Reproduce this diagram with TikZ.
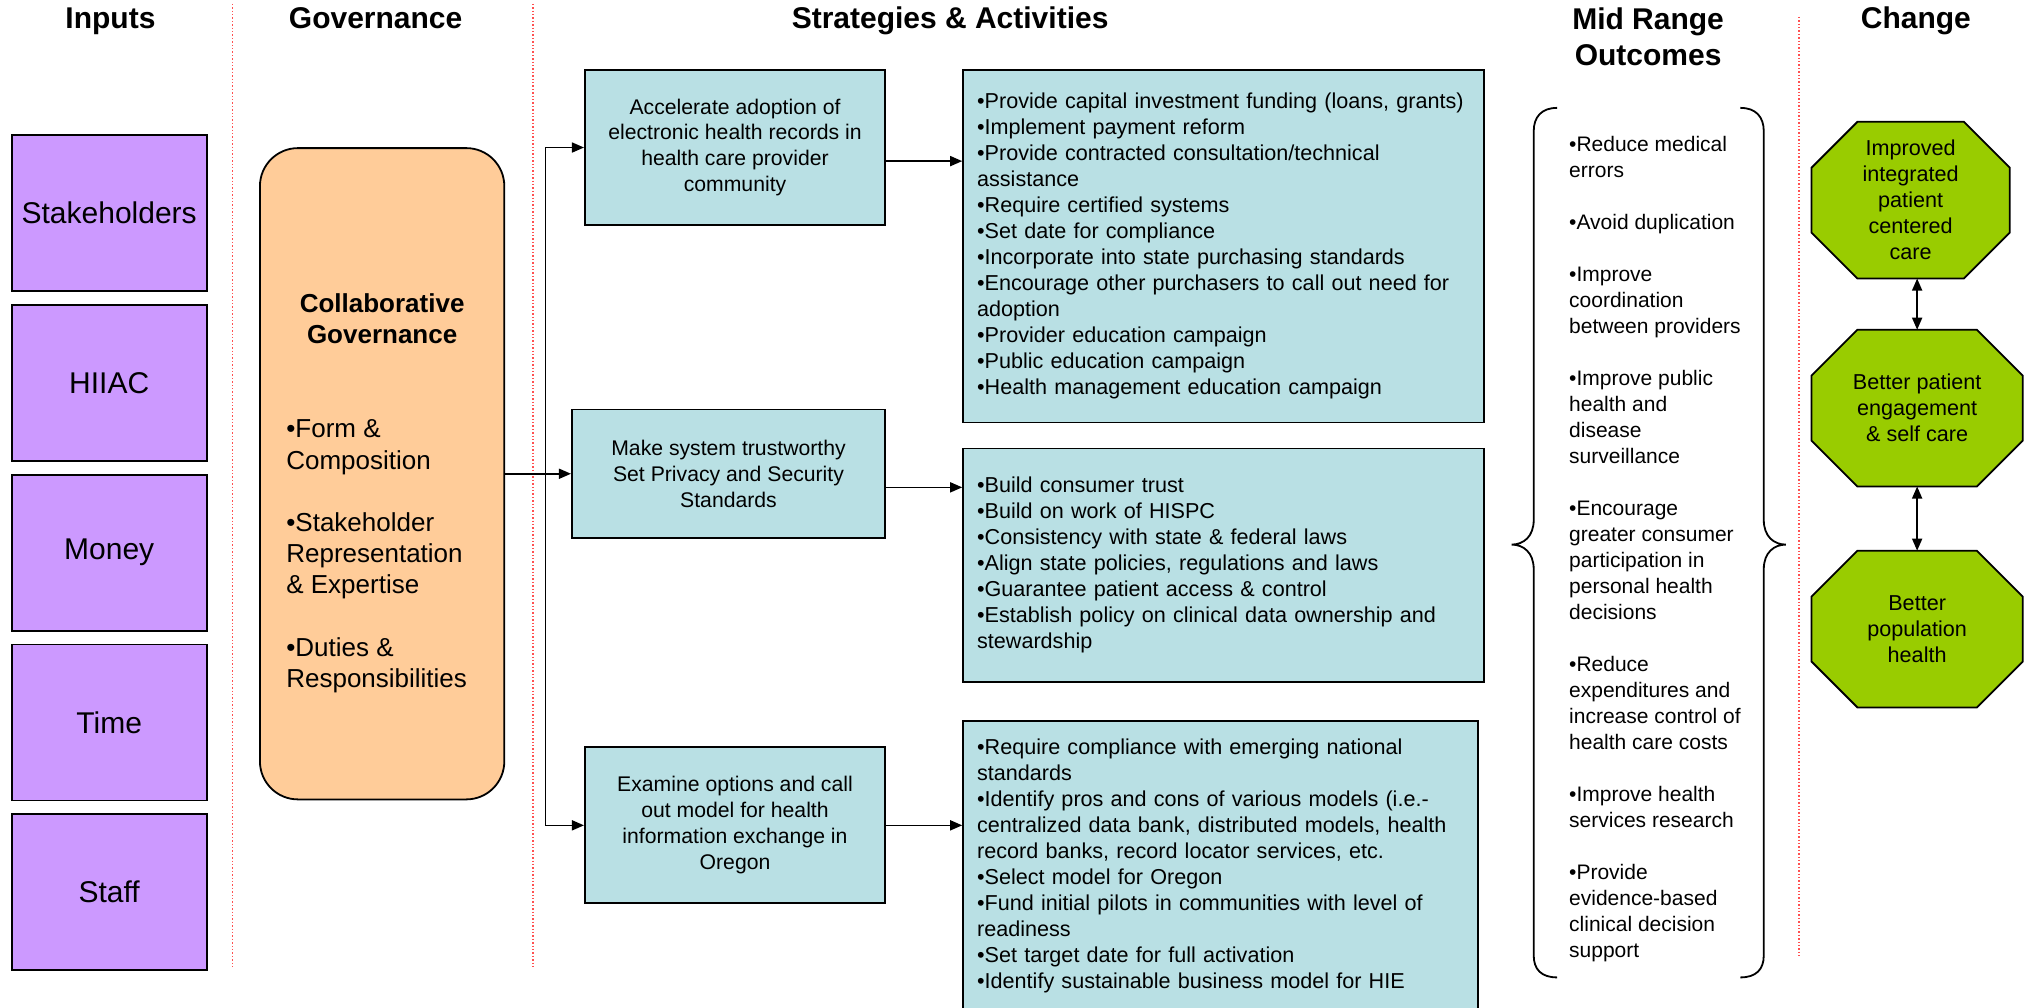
\documentclass[tikz,border=0pt]{standalone}
\usepackage{fontspec}
\setmainfont{Liberation Sans}
\usepackage{tikz}
\usetikzlibrary{arrows.meta, positioning, calc, backgrounds}

\definecolor{inputpurple}{RGB}{204,153,255}
\definecolor{govorange}{RGB}{255,204,153}
\definecolor{actteal}{RGB}{185,224,228}
\definecolor{changegreen}{RGB}{153,204,0}
\definecolor{dividerred}{RGB}{255,80,80}

\tikzset{
    heading/.style={font=\fontsize{15}{18}\selectfont\bfseries, align=center},
    inputbox/.style={
        rectangle, draw, fill=inputpurple, line width=0.9pt,
        minimum width=97.5pt, minimum height=78pt,
        font=\fontsize{15}{18}\selectfont
    },
    govbox/.style={
        rectangle, draw, fill=govorange, line width=0.9pt,
        rounded corners=19pt, minimum width=122.2pt, minimum height=325.7pt
    },
    strategy/.style={rectangle, draw, fill=actteal, line width=0.9pt, align=center, font=\fontsize{10.6}{13}\selectfont},
    activity/.style={rectangle, draw, fill=actteal, line width=0.9pt, align=left, inner xsep=7pt, font=\fontsize{10.8}{13}\selectfont},
    outcome/.style={anchor=west, inner sep=0pt, align=left, font=\fontsize{10.5}{13}\selectfont},
    % Change column
    changenode/.style={minimum height=78pt, align=center, inner sep=0pt, font=\fontsize{10.8}{13}\selectfont},
    octagon/.style={draw, fill=changegreen, line width=0.9pt},
    divider/.style={dividerred, densely dotted, line width=0.7pt},
    brace/.style={line width=0.9pt},
    arrow/.style={line width=0.8pt, ->, >={Triangle[length=6pt, width=5pt]}},
    twoway/.style={line width=0.8pt, <->, >={Triangle[length=6pt, width=5pt]}}
}

\begin{document}
\begin{tikzpicture}[x=0.65pt, y=-0.65pt]
    \useasboundingbox (0,0) rectangle (1568,775);

    % column headings
    \node[heading, anchor=base] (hinputs) at (85,22) {Inputs};
    \node[heading, anchor=base] (hgov) at (289,22) {Governance};
    \node[heading, anchor=base] (hstrat) at (731,22) {Strategies \& Activities};
    \node[heading] (hmid) at (1268,28) {Mid Range\\Outcomes};
    \node[heading, anchor=base] (hchange) at (1474,22) {Change};

    \draw[divider] (179,3) -- (179,745);
    \draw[divider] (410,3) -- (410,745);
    \draw[divider] (1384,13) -- (1384,735);

    % inputs
    \node[inputbox] (stake) at (84,164) {Stakeholders};
    \node[inputbox, below=6pt of stake] (hiiac) {HIIAC};
    \node[inputbox, below=6pt of hiiac] (money) {Money};
    \node[inputbox, below=6pt of money] (time) {Time};
    \node[inputbox, below=6pt of time] (staff) {Staff};

    % governance
    \node[govbox] (gov) at (294,364.5) {};
    \node[font=\fontsize{13}{15.6}\selectfont\bfseries, align=center] (govtitle) at (294,245) {Collaborative\\Governance};
    \node[anchor=west, inner sep=0pt, align=left, font=\fontsize{13}{15.6}\selectfont] (govlist) at (220,428)
        {•Form \&\\Composition\\[15.6pt]•Stakeholder\\Representation\\\& Expertise\\[15.6pt]•Duties \&\\Responsibilities};

    % strategies
    \node[strategy, minimum width=150.15pt, minimum height=77.35pt] (s1) at (565.5,113.5)
        {Accelerate adoption of\\electronic health records in\\health care provider\\community};
    \node[strategy, minimum width=156.65pt, minimum height=64.35pt] (s2) at (560.5,364.5)
        {Make system trustworthy\\Set Privacy and Security\\Standards};
    \node[strategy, minimum width=150.15pt, minimum height=78pt] (s3) at (565.5,635)
        {Examine options and call\\out model for health\\information exchange in\\Oregon};

    % activities
    \node[activity, text width=246.65pt, minimum height=176.15pt] (d1) at (941.5,189.5)
        {•Provide capital investment funding (loans, grants)\\
         •Implement payment reform\\
         •Provide contracted consultation/technical\\
         assistance\\
         •Require certified systems\\
         •Set date for compliance\\
         •Incorporate into state purchasing standards\\
         •Encourage other purchasers to call out need for\\
         adoption\\
         •Provider education campaign\\
         •Public education campaign\\
         •Health management education campaign};
    \node[activity, text width=246.65pt, minimum height=117pt] (d2) at (941.5,435)
        {•Build consumer trust\\
         •Build on work of HISPC\\
         •Consistency with state \& federal laws\\
         •Align state policies, regulations and laws\\
         •Guarantee patient access \& control\\
         •Establish policy on clinical data ownership and\\
         stewardship};
    \node[activity, text width=243.4pt, minimum height=145pt] (d3) at (939,666.5)
        {•Require compliance with emerging national\\
         standards\\
         •Identify pros and cons of various models (i.e.-\\
         centralized data bank, distributed models, health\\
         record banks, record locator services, etc.\\
         •Select model for Oregon\\
         •Fund initial pilots in communities with level of\\
         readiness\\
         •Set target date for full activation\\
         •Identify sustainable business model for HIE};

    \coordinate (split) at ($(gov.east)!0.615!(s2.west)$);
    \draw[arrow] (gov.east) -- (s2.west);
    \draw[arrow] (split) |- (s1.west);
    \draw[arrow] (split) |- (s3.west);
    \coordinate (s1out) at ([yshift=-6.8pt]s1.east);
    \coordinate (s2out) at ([yshift=-6.8pt]s2.east);
    \draw[arrow] (s1out) -- (s1out -| d1.west);
    \draw[arrow] (s2out) -- (s2out -| d2.west);
    \draw[arrow] (s3.east) -- (s3.east -| d3.west);

    % mid range outcomes
    \node[outcome] (outcomes) at (1207,422.5)
        {•Reduce medical\\errors\\[13pt]
         •Avoid duplication\\[13pt]
         •Improve\\coordination\\between providers\\[13pt]
         •Improve public\\health and\\disease\\surveillance\\[13pt]
         •Encourage\\greater consumer\\participation in\\personal health\\decisions\\[13pt]
         •Reduce\\expenditures and\\increase control of\\health care costs\\[13pt]
         •Improve health\\services research\\[13pt]
         •Provide\\evidence-based\\clinical decision\\support};
    \draw[brace] (1198,83) .. controls (1186,83) and (1180,90) .. (1180,101) -- (1180,400)
        .. controls (1180,413) and (1172,419) .. (1163,419)
        .. controls (1172,419) and (1180,425) .. (1180,438) -- (1180,735)
        .. controls (1180,746) and (1186,752) .. (1198,752);
    \draw[brace] (1339,83) .. controls (1351,83) and (1357,90) .. (1357,101) -- (1357,400)
        .. controls (1357,413) and (1365,419) .. (1374,419)
        .. controls (1365,419) and (1357,425) .. (1357,438) -- (1357,735)
        .. controls (1357,746) and (1351,752) .. (1339,752);

    % change
    \node[changenode, minimum width=98.8pt] (oct1) at (1470,154) {Improved\\integrated\\patient\\centered\\care};
    \node[changenode, minimum width=105.3pt] (oct2) at (1475,314) {Better patient\\engagement\\\& self care};
    \node[changenode, minimum width=105.3pt] (oct3) at (1475,484) {Better\\population\\health};
    \begin{scope}[on background layer]
        \foreach \o in {oct1, oct2, oct3}
            \draw[octagon] ([xshift=23pt]\o.north west) -- ([xshift=-23pt]\o.north east)
                -- ([yshift=-23pt]\o.north east) -- ([yshift=23pt]\o.south east)
                -- ([xshift=-23pt]\o.south east) -- ([xshift=23pt]\o.south west)
                -- ([yshift=23pt]\o.south west) -- ([yshift=-23pt]\o.north west) -- cycle;
    \end{scope}
    \draw[twoway] (oct1.south -| oct2.north) -- (oct2.north);
    \draw[twoway] (oct2.south) -- (oct3.north);
\end{tikzpicture}
\end{document}
